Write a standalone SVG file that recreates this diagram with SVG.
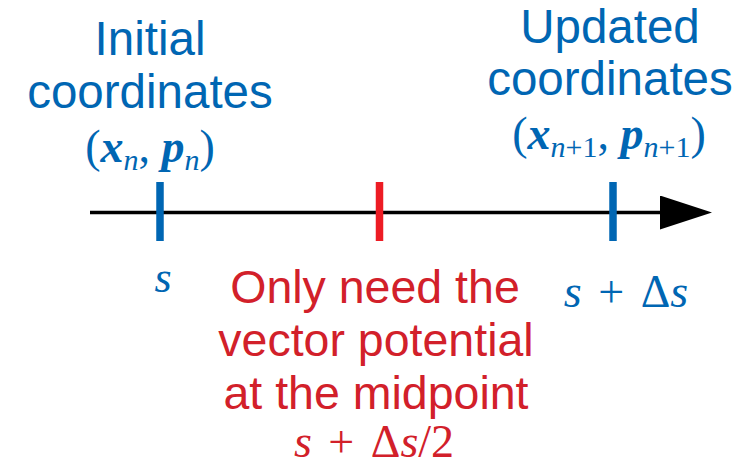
<svg xmlns="http://www.w3.org/2000/svg" width="748" height="467" viewBox="0 0 748 467">
  <defs>
    <marker id="arrowhead" markerUnits="userSpaceOnUse" markerWidth="52" markerHeight="34" refX="40" refY="17" orient="auto">
      <path d="M0,0 L52,17 L0,34 Z" fill="#000"/>
    </marker>
    <style>
      .sans { font-family: "Liberation Sans", Arial, sans-serif; font-size: 47.5px; text-anchor: middle; }
      .red-sans { font-size: 46.5px; }
      .math { font-family: "Liberation Serif", "Times New Roman", serif; text-anchor: middle; }
      .sp { word-spacing: 5px; }
      .blue { fill: #0066b3; }
      .red { fill: #d2202a; }
      .bi { font-weight: bold; font-style: italic; }
      .it { font-style: italic; }
      .sub { font-size: 30px; }
      .tick { stroke-width: 7.5; }
    </style>
  </defs>
  <rect width="748" height="467" fill="#fff"/>

  <g id="connectors">
    <line x1="90" y1="212.5" x2="700" y2="212.5" stroke="#000" stroke-width="3.6" marker-end="url(#arrowhead)"/>
  </g>

  <g id="tick-s">
    <line class="tick" x1="160" y1="182" x2="160" y2="241" stroke="#0066b3"/>
  </g>
  <g id="tick-mid">
    <line class="tick" x1="379.5" y1="182" x2="379.5" y2="241" stroke="#ed1c24"/>
  </g>
  <g id="tick-sds">
    <line class="tick" x1="613" y1="182" x2="613" y2="241" stroke="#0066b3"/>
  </g>

  <g id="initial">
    <text class="sans blue" x="150" y="55">Initial</text>
    <text class="sans blue" x="150" y="108">coordinates</text>
    <text class="math blue" x="150" y="162" font-size="46">(<tspan class="bi">x</tspan><tspan class="sub it" dy="8">n</tspan><tspan dy="-8">, </tspan><tspan class="bi">p</tspan><tspan class="sub it" dy="8">n</tspan><tspan dy="-8">)</tspan></text>
  </g>

  <g id="updated">
    <text class="sans blue" x="610" y="43">Updated</text>
    <text class="sans blue" x="610" y="95">coordinates</text>
    <text class="math blue" x="609" y="149" font-size="46">(<tspan class="bi">x</tspan><tspan class="sub it" dy="8">n</tspan><tspan class="sub">+1</tspan><tspan dy="-8">, </tspan><tspan class="bi">p</tspan><tspan class="sub it" dy="8">n</tspan><tspan class="sub">+1</tspan><tspan dy="-8">)</tspan></text>
  </g>

  <g id="label-s">
    <text class="math blue it" x="163" y="292" font-size="44">s</text>
  </g>

  <g id="label-s-ds">
    <text class="math blue sp" x="626" y="307" font-size="46"><tspan class="it">s</tspan> + Δ<tspan class="it">s</tspan></text>
  </g>

  <g id="midpoint-note">
    <text class="sans red red-sans" x="375" y="303">Only need the</text>
    <text class="sans red red-sans" x="376" y="356">vector potential</text>
    <text class="sans red red-sans" x="376" y="409">at the midpoint</text>
    <text class="math red sp" x="374" y="457" font-size="46"><tspan class="it">s</tspan> + Δ<tspan class="it">s</tspan>/2</text>
  </g>
</svg>
